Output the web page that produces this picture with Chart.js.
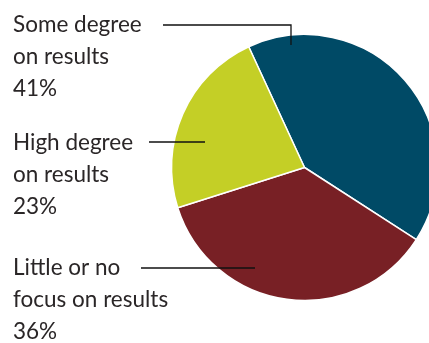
<!DOCTYPE html>
<html>
<head>
<meta charset="utf-8">
<script src="https://cdn.jsdelivr.net/npm/chart.js@4"></script>
<style>
  html, body { margin: 0; padding: 0; background: #fff; overflow: hidden; width: 429px; height: 343px; }
  #wrap { position: relative; width: 437px; height: 343px; }
</style>
</head>
<body>
<div id="wrap"><canvas id="chart" width="437" height="343"></canvas></div>
<script>
// data, in drawing order (clockwise from the top-left boundary)
const categories = ["Some degree on results", "Little or no focus on results", "High degree on results"];
const shares = [41, 36, 23];
const sliceColors = ["#004a66", "#782025", "#c4cf26"];

// label text, one entry per slice
const labelLines = [
    ["Some degree", "on results", "41%"],
    ["Little or no", "focus on results", "36%"],
    ["High degree", "on results", "23%"]
];

// ==========================
// CALLOUT LABELS
// ==========================

const callouts = {
    id: "callouts",
    afterDraw(chart) {
        const c = chart.ctx;
        const places = [
            { y: 32, line: [[163, 25], [291, 25], [291, 45]] },
            { y: 275, line: [[141, 268], [255, 268]] },
            { y: 150, line: [[149, 142], [205, 142]] }
        ];

        c.save();
        c.font = "400 22.5px Lato";
        c.fillStyle = "#2a2627";
        c.textBaseline = "alphabetic";

        labelLines.forEach((lines, i) => {
            lines.forEach((txt, k) => {
                c.fillText(txt, 13, places[i].y + k * 32);
            });

            c.beginPath();
            c.strokeStyle = "#111";
            c.lineWidth = 1.3;
            places[i].line.forEach((p, k) => {
                if (k === 0) c.moveTo(p[0], p[1]);
                else c.lineTo(p[0], p[1]);
            });
            c.stroke();
        });
        c.restore();
    }
};

// ==========================
// CHART
// ==========================

const ctx = document.getElementById("chart").getContext("2d");

new Chart(ctx, {
    type: "pie",
    data: {
        labels: categories,
        datasets: [{
            data: shares,
            backgroundColor: sliceColors,
            borderColor: "#ffffff",
            borderWidth: 1.5,
            hoverOffset: 0
        }]
    },
    options: {
        responsive: false,
        animation: false,
        rotation: -24.8,
        radius: 133,
        layout: {
            padding: { left: 172, right: 0, top: 35, bottom: 43 }
        },
        plugins: {
            legend: { display: false },
            tooltip: { enabled: false }
        }
    },
    plugins: [callouts]
});
</script>
</body>
</html>
